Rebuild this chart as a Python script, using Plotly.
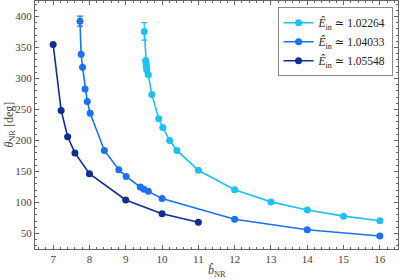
import plotly.graph_objects as go

# Series: E_in ~ 1.02264 (light)
b_light = [9.51, 9.55, 9.56, 9.57, 9.58, 9.62, 9.72, 9.91, 10.02, 10.21, 10.41, 11.0, 12.0, 13.0, 14.0, 15.0, 16.0]
th_light = [376, 329, 324, 319, 314, 306, 274, 235, 221, 200, 184, 152, 120.5, 101, 88, 78, 70.5]
err_light = [14, 0, 0, 0, 0, 0, 0, 0, 0, 0, 0, 0, 0, 0, 0, 0, 0]

# Series: E_in ~ 1.04033 (medium)
b_med = [7.74, 7.77, 7.81, 7.88, 7.94, 8.02, 8.41, 8.81, 9.01, 9.4, 9.5, 9.62, 10.0, 12.0, 14.0, 16.0]
th_med = [392.5, 339, 318, 283, 263, 244, 184, 153, 142, 125, 121.5, 118, 106.5, 73, 56, 46]
err_med = [8, 0, 0, 0, 0, 0, 0, 0, 0, 0, 0, 0, 0, 0, 0, 0]

# Series: E_in ~ 1.05548 (dark)
b_dark = [7.0, 7.22, 7.4, 7.6, 8.0, 9.0, 10.0, 11.0]
th_dark = [355, 248.5, 206, 180, 146.5, 104, 82, 68]
err_dark = [0, 0, 0, 0, 0, 0, 0, 0]

labels = ["<i>Ê</i><sub>in</sub> ≃ 1.02264",
          "<i>Ê</i><sub>in</sub> ≃ 1.04033",
          "<i>Ê</i><sub>in</sub> ≃ 1.05548"]
colors = ["#1ec0f8", "#1a72f2", "#0d2f8f"]

fig = go.Figure()
for b, th, err, lab, col in zip([b_light, b_med, b_dark], [th_light, th_med, th_dark],
                                [err_light, err_med, err_dark], labels, colors):
    fig.add_trace(go.Scatter(
        x=b, y=th, mode="lines+markers", name=lab,
        line=dict(color=col, width=1.6),
        marker=dict(color=col, size=7),
        error_y=dict(type="data", array=err, symmetric=True, color=col, thickness=1.2, width=3),
    ))

font = "Liberation Serif, DejaVu Serif, serif"
axis_common = dict(
    showgrid=False, zeroline=False, showline=True, linecolor="#666666", linewidth=1,
    mirror="ticks", ticks="inside", ticklen=4, tickcolor="#666666", automargin=False,
    tickfont=dict(family=font, size=11, color="#444444"),
)
fig.update_xaxes(range=[6.5, 16.5], dtick=1, tick0=0,
                 minor=dict(ticks="inside", dtick=0.2, ticklen=2, tickcolor="#666666"),
                 **axis_common)
fig.update_yaxes(range=[25, 425], dtick=50, tick0=0,
                 minor=dict(ticks="inside", dtick=10, ticklen=2, tickcolor="#666666"),
                 **axis_common)

fig.add_annotation(text="<i>b̂</i><sub>NR</sub>", xref="paper", yref="paper",
                   x=0.5, y=-0.05, xanchor="center", yanchor="top", showarrow=False,
                   font=dict(family=font, size=12, color="#444444"))
fig.add_annotation(text="<i>θ</i><sub>NR</sub> [deg]", xref="paper", yref="paper",
                   x=-0.07, y=0.5, xanchor="center", yanchor="middle", showarrow=False,
                   textangle=-90, font=dict(family=font, size=12, color="#444444"))

fig.update_layout(
    width=399, height=279,
    margin=dict(l=35, r=1, t=1, b=30),
    plot_bgcolor="white", paper_bgcolor="white",
    font=dict(family=font, size=12, color="#222222"),
    legend=dict(x=0.985, y=0.975, xanchor="right", yanchor="top",
                bordercolor="#888888", borderwidth=1, bgcolor="white",
                font=dict(family=font, size=11.5, color="#222222"),
                tracegroupgap=0, itemwidth=30),
    showlegend=True,
)

fig.write_html("out.html", config={"displayModeBar": False},
               post_script="document.body.style.margin='0';document.body.style.overflow='hidden';")
